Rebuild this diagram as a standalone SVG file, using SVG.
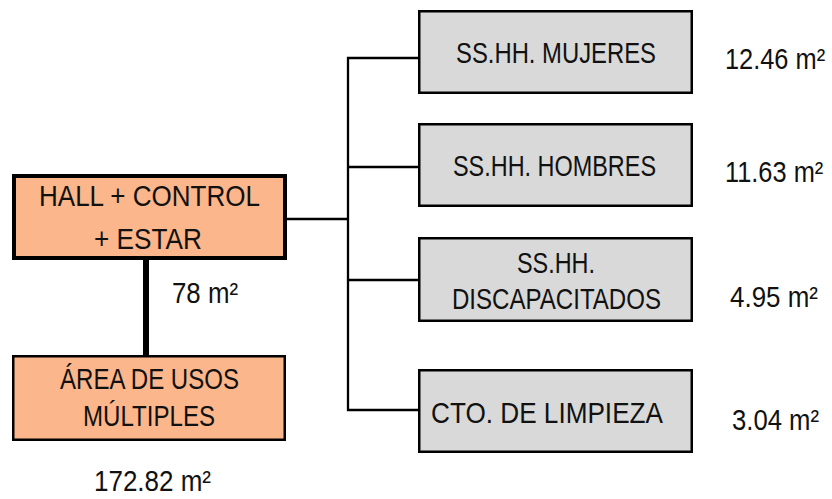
<svg xmlns="http://www.w3.org/2000/svg" width="832" height="499" viewBox="0 0 832 499">
<style>
.t{font-family:"Liberation Sans",Arial,sans-serif;font-size:29px;fill:#111;}
.c{text-anchor:middle;}
.main{fill:#FBB68B;stroke:#000;}
.sub{fill:#D9D9D9;stroke:#000;stroke-width:2.5;}
.ln{stroke:#000;stroke-width:2.3;fill:none;}
</style>
<rect width="832" height="499" fill="#fff"/>
<g id="connectors">
<line x1="146" y1="258" x2="146" y2="357" stroke="#000" stroke-width="6"/>
<polyline class="ln" points="286,219 348,219"/>
<polyline class="ln" points="419,58 348,58 348,410 419,410"/>
<line class="ln" x1="348" y1="167" x2="419" y2="167"/>
<line class="ln" x1="348" y1="280" x2="419" y2="280"/>
</g>
<g id="hall">
<rect class="main" x="14" y="176" width="271" height="82" stroke-width="4"/>
<text class="t c" x="149.5" y="206" textLength="221" lengthAdjust="spacingAndGlyphs">HALL + CONTROL</text>
<text class="t c" x="148" y="249" textLength="108" lengthAdjust="spacingAndGlyphs">+ ESTAR</text>
<text class="t" x="172" y="303" textLength="66" lengthAdjust="spacingAndGlyphs">78 m²</text>
</g>
<g id="usos">
<rect class="main" x="13.25" y="356.25" width="271.5" height="83.5" stroke-width="2.5"/>
<text class="t c" x="149.5" y="389" textLength="179" lengthAdjust="spacingAndGlyphs">ÁREA DE USOS</text>
<text class="t c" x="149" y="426" textLength="132" lengthAdjust="spacingAndGlyphs">MÚLTIPLES</text>
<text class="t" x="94" y="491" textLength="117" lengthAdjust="spacingAndGlyphs">172.82 m²</text>
</g>
<g id="mujeres">
<rect class="sub" x="419.25" y="11.25" width="272.5" height="81.5"/>
<text class="t c" x="556" y="63" textLength="200" lengthAdjust="spacingAndGlyphs">SS.HH. MUJERES</text>
<text class="t" transform="translate(725 69) scale(0.875 1)">12.46 m²</text>
</g>
<g id="hombres">
<rect class="sub" x="419.25" y="124.25" width="272.5" height="81.5"/>
<text class="t c" x="554.5" y="176" textLength="203" lengthAdjust="spacingAndGlyphs">SS.HH. HOMBRES</text>
<text class="t" transform="translate(725 182) scale(0.875 1)">11.63 m²</text>
</g>
<g id="discapacitados">
<rect class="sub" x="419.25" y="238.25" width="272.5" height="82.5"/>
<text class="t c" x="556" y="273" textLength="78" lengthAdjust="spacingAndGlyphs">SS.HH.</text>
<text class="t c" x="556.5" y="309" textLength="209" lengthAdjust="spacingAndGlyphs">DISCAPACITADOS</text>
<text class="t" x="730" y="307" textLength="88" lengthAdjust="spacingAndGlyphs">4.95 m²</text>
</g>
<g id="limpieza">
<rect class="sub" x="419.25" y="370.25" width="272.5" height="81.5"/>
<text class="t c" x="547" y="423" textLength="232" lengthAdjust="spacingAndGlyphs">CTO. DE LIMPIEZA</text>
<text class="t" x="732" y="430" textLength="87" lengthAdjust="spacingAndGlyphs">3.04 m²</text>
</g>
</svg>
